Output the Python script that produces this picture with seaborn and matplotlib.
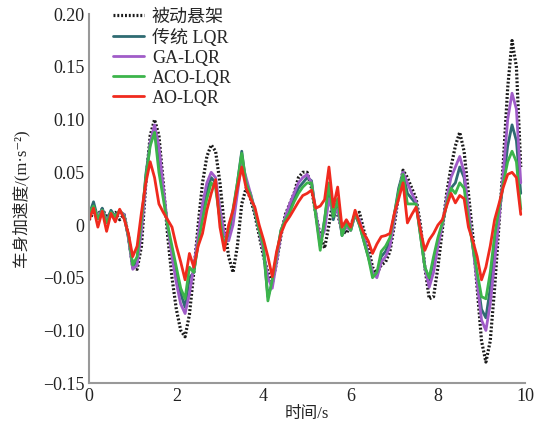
import numpy as np
import pandas as pd
import matplotlib
matplotlib.use("Agg")
import matplotlib.pyplot as plt
import seaborn as sns

t = [round(0.1 * i, 1) for i in range(100)]

passive = [0.005, 0.012, 0.010, 0.015, 0.008, 0.010, 0.012, 0.005, 0.010, -0.010,
           -0.040, -0.042, -0.020, 0.040, 0.085, 0.100, 0.085, 0.040, -0.010, -0.050,
           -0.080, -0.100, -0.106, -0.085, -0.045, 0.000, 0.040, 0.065, 0.076, 0.070,
           0.040, 0.000, -0.030, -0.045, -0.020, 0.020, 0.035, 0.025, 0.010, -0.010,
           -0.030, -0.045, -0.055, -0.035, -0.010, 0.010, 0.020, 0.030, 0.045, 0.050,
           0.050, 0.035, 0.010, -0.010, -0.022, 0.000, 0.025, 0.010, -0.005, -0.008,
           0.000, 0.010, 0.012, -0.005, -0.020, -0.040, -0.046, -0.038, -0.035, -0.025,
           0.000, 0.030, 0.052, 0.045, 0.035, 0.025, 0.000, -0.040, -0.070, -0.068,
           -0.040, -0.005, 0.030, 0.055, 0.075, 0.088, 0.070, 0.030, -0.010, -0.060,
           -0.110, -0.130, -0.110, -0.060, 0.000, 0.060, 0.130, 0.175, 0.150, 0.055]

lqr = [0.010, 0.022, 0.006, 0.016, 0.004, 0.014, 0.008, 0.013, 0.010, -0.012,
       -0.040, -0.033, 0.000, 0.048, 0.078, 0.092, 0.058, 0.032, -0.002, -0.025,
       -0.045, -0.065, -0.078, -0.050, -0.045, -0.015, 0.010, 0.032, 0.045, 0.040,
       0.005, -0.020, -0.010, 0.012, 0.040, 0.070, 0.038, 0.030, 0.012, -0.005,
       -0.025, -0.068, -0.055, -0.030, -0.005, 0.005, 0.015, 0.025, 0.035, 0.040,
       0.045, 0.042, 0.010, -0.020, 0.005, 0.035, 0.005, 0.020, -0.010, 0.000,
       -0.005, 0.010, 0.000, -0.015, -0.030, -0.045, -0.048, -0.030, -0.025, -0.015,
       0.010, 0.035, 0.050, 0.030, 0.025, 0.020, -0.010, -0.040, -0.052, -0.035,
       -0.015, 0.000, 0.020, 0.035, 0.040, 0.055, 0.045, 0.010, -0.020, -0.050,
       -0.080, -0.088, -0.060, -0.020, 0.010, 0.040, 0.075, 0.095, 0.080, 0.030]

ga = [0.010, 0.016, 0.008, 0.014, 0.004, 0.011, 0.009, 0.012, 0.010, -0.012,
      -0.042, -0.038, -0.005, 0.040, 0.078, 0.095, 0.075, 0.035, 0.000, -0.030,
      -0.055, -0.075, -0.084, -0.065, -0.040, -0.010, 0.020, 0.040, 0.050, 0.045,
      0.015, -0.008, -0.015, 0.000, 0.030, 0.060, 0.045, 0.030, 0.015, -0.005,
      -0.025, -0.050, -0.060, -0.035, -0.008, 0.008, 0.020, 0.030, 0.040, 0.045,
      0.048, 0.040, 0.012, -0.015, -0.005, 0.025, 0.010, 0.015, -0.008, -0.002,
      -0.005, 0.010, 0.005, -0.010, -0.028, -0.045, -0.050, -0.035, -0.030, -0.020,
      0.005, 0.030, 0.050, 0.040, 0.030, 0.022, -0.005, -0.040, -0.059, -0.045,
      -0.020, 0.000, 0.025, 0.045, 0.055, 0.065, 0.050, 0.015, -0.020, -0.055,
      -0.090, -0.100, -0.075, -0.035, 0.005, 0.050, 0.100, 0.125, 0.110, 0.040]

aco = [0.012, 0.018, 0.006, 0.014, 0.002, 0.012, 0.008, 0.014, 0.008, -0.010,
       -0.038, -0.030, 0.005, 0.045, 0.075, 0.088, 0.050, 0.025, 0.000, -0.020,
       -0.040, -0.060, -0.070, -0.040, -0.045, -0.018, 0.005, 0.025, 0.040, 0.035,
       0.005, -0.020, -0.005, 0.015, 0.040, 0.068, 0.040, 0.028, 0.015, -0.005,
       -0.020, -0.072, -0.052, -0.028, -0.005, 0.005, 0.012, 0.022, 0.030, 0.036,
       0.040, 0.040, 0.008, -0.024, 0.005, 0.040, 0.008, 0.025, -0.010, 0.002,
       -0.005, 0.012, 0.000, -0.015, -0.030, -0.050, -0.045, -0.025, -0.020, -0.012,
       0.010, 0.032, 0.048, 0.020, 0.020, 0.020, -0.010, -0.040, -0.050, -0.030,
       -0.012, 0.002, 0.020, 0.035, 0.030, 0.040, 0.035, 0.005, -0.020, -0.045,
       -0.068, -0.070, -0.045, -0.010, 0.015, 0.040, 0.060, 0.070, 0.060, 0.015]

ao = [0.005, 0.016, -0.002, 0.013, -0.006, 0.011, 0.003, 0.015, 0.006, -0.008,
      -0.030, -0.020, 0.012, 0.040, 0.060, 0.045, 0.020, 0.012, 0.005, -0.002,
      -0.020, -0.035, -0.052, -0.027, -0.040, -0.020, -0.008, 0.014, 0.030, 0.043,
      -0.002, -0.024, 0.000, 0.014, 0.035, 0.055, 0.035, 0.025, 0.017, 0.000,
      -0.014, -0.030, -0.049, -0.025, -0.008, 0.002, 0.008, 0.015, 0.022, 0.028,
      0.030, 0.033, 0.016, 0.018, 0.024, 0.055, 0.017, 0.036, -0.002, 0.005,
      -0.002, 0.014, 0.002, -0.008, -0.015, -0.027, -0.018, -0.011, -0.010, -0.008,
      0.011, 0.025, 0.040, 0.002, 0.010, 0.017, -0.005, -0.024, -0.014, -0.008,
      0.000, 0.005, 0.018, 0.030, 0.021, 0.028, 0.025, -0.002, -0.015, -0.030,
      -0.052, -0.040, -0.020, 0.005, 0.020, 0.036, 0.048, 0.050, 0.045, 0.010]

labels = ["被动悬架", "传统 LQR", "GA-LQR", "ACO-LQR", "AO-LQR"]
series = [passive, lqr, ga, aco, ao]
colors = ["#1a1a1a", "#2f6b72", "#a05cc8", "#3cb44b", "#f02a1e"]

sns.set_style("white")
plt.rcParams['font.family'] = ['Liberation Serif', 'Noto Sans CJK SC', 'DejaVu Sans']
plt.rcParams['axes.unicode_minus'] = True

fig = plt.figure(figsize=(5.47, 4.30), dpi=100)
ax = fig.add_axes([0.163, 0.109, 0.797, 0.858])

for lab, vals, col in zip(labels, series, colors):
    df = pd.DataFrame({"t": t, "a": vals})
    if lab == "被动悬架":
        sns.lineplot(data=df, x="t", y="a", ax=ax, color=col, linewidth=2.3,
                     linestyle=(0, (0.6, 0.6)), label=lab)
    else:
        sns.lineplot(data=df, x="t", y="a", ax=ax, color=col, linewidth=2.0,
                     label=lab)

ax.set_xlim(0, 10)
ax.set_ylim(-0.15, 0.20)
ax.set_xticks([0, 2, 4, 6, 8, 10])
yt = [-0.15, -0.10, -0.05, 0, 0.05, 0.10, 0.15, 0.20]
ax.set_yticks(yt)
ax.set_yticklabels(["\u22120.15", "\u22120.10", "\u22120.05", "0", "0.05", "0.10", "0.15", "0.20"])
ax.tick_params(direction="in", length=3, labelsize=13, labelcolor="#222222", color="#888888")
for s in ["top", "right"]:
    ax.spines[s].set_visible(False)
for s in ["left", "bottom"]:
    ax.spines[s].set_color("#999999")
    ax.spines[s].set_linewidth(1.5)

ax.set_xlabel("时间/s", fontsize=12, labelpad=1)
ax.set_ylabel("车身加速度/(m·s\u207b\u00b2)", fontsize=12, labelpad=10)

leg = ax.legend(loc="upper left", bbox_to_anchor=(0.03, 1.045), frameon=False,
                fontsize=13, handlelength=1.7, labelspacing=0.17, handletextpad=0.45,
                borderaxespad=0.2)

fig.savefig("out.png", dpi=100)
